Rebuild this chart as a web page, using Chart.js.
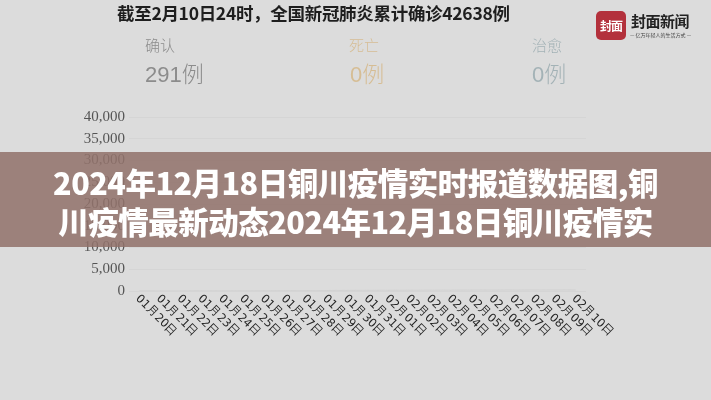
<!DOCTYPE html>
<html>
<head>
<meta charset="utf-8">
<script src="https://cdn.jsdelivr.net/npm/chart.js@4.4.1/dist/chart.umd.min.js"></script>
<style>
  html, body { margin: 0; padding: 0; background: #dcdcdc; }
  #wrap { position: relative; width: 711px; height: 400px; overflow: hidden; background: #dcdcdc; }
  canvas { position: absolute; left: 0; top: 0; }
  .abs { position: absolute; white-space: nowrap; }
  #title { left: 117px; top: 0px; font: bold 17.5px "Noto Sans CJK SC"; color: #1e1e1e; letter-spacing: -0.3px; }
  .lab { font: 300 15px "Noto Sans CJK SC"; }
  .num { font: 22px "Liberation Sans Narrow", "Liberation Sans", sans-serif; }
  .num span { font: 300 22px "Noto Sans CJK SC"; }
  #banner { left: 0; top: 152px; width: 711px; height: 95px; background: rgba(146,114,107,0.86); }
  .bt { left: 0; width: 711px; text-align: center; font: 900 30.5px "Noto Sans CJK SC"; color: #fff; letter-spacing: -0.5px; }
  #logo { left: 596px; top: 11px; width: 30px; height: 29px; background: #b3313c; border-radius: 5px; color: #fff; font: bold 12px "Noto Sans CJK SC"; text-align: center; line-height: 29px; letter-spacing: -1px; }
  #logoT { left: 631px; top: 10px; font: bold 15px "Noto Sans CJK SC"; color: #222; letter-spacing: -0.5px; }
  #logoS { left: 630px; top: 31px; font: 5px "Noto Sans CJK SC"; color: #444; }
</style>
</head>
<body>
<div id="wrap">
  <canvas id="c" width="711" height="400"></canvas>
  <div class="abs" id="title"></div>
  <div class="abs lab" id="l0" style="left:145px; top:34px;"></div>
  <div class="abs num" id="n0" style="left:145px; top:56px;"></div>
  <div class="abs lab" id="l1" style="left:349px; top:34px;"></div>
  <div class="abs num" id="n1" style="left:350px; top:56px;"></div>
  <div class="abs lab" id="l2" style="left:532px; top:34px;"></div>
  <div class="abs num" id="n2" style="left:532px; top:56px;"></div>
  <div class="abs" id="logo">封面</div>
  <div class="abs" id="logoT">封面新闻</div>
  <div class="abs" id="logoS">— 亿万年轻人的生活方式 —</div>
  <div class="abs" id="banner"></div>
  <div class="abs bt" id="b1" style="top:160px;"></div>
  <div class="abs bt" id="b2" style="top:199px;"></div>
</div>
<script>
// ---- data ----
const categories = ["01月20日","01月21日","01月22日","01月23日","01月24日","01月25日","01月26日","01月27日","01月28日","01月29日","01月30日","01月31日","02月01日","02月02日","02月03日","02月04日","02月05日","02月06日","02月07日","02月08日","02月09日","02月10日"];
const confirmed = [0,1,3,8,15,28,44,69,90,108,142,165,182,198,215,231,246,258,268,278,285,291];
const deaths    = [0,0,0,0,0,0,0,0,0,0,0,0,0,0,0,0,0,0,0,0,0,0];
const cured     = [0,0,0,0,0,0,0,0,0,0,0,0,0,0,0,0,0,0,0,0,0,0];
const yTicks = [0,5000,10000,15000,20000,25000,30000,35000,40000];
const titleText = "截至2月10日24时，全国新冠肺炎累计确诊42638例";
const statLabels = ["确认","死亡","治愈"];
const statValues = [291, 0, 0];
const statColors = ["#8c8c8c","#d6bd94","#a3b2b6"];
const bannerLines = ["2024年12月18日铜川疫情实时报道数据图,铜","川疫情最新动态2024年12月18日铜川疫情实"];

// ---- text ----
document.getElementById('title').textContent = titleText;
for (let i = 0; i < 3; i++) {
  const l = document.getElementById('l' + i);
  l.textContent = statLabels[i]; l.style.color = statColors[i];
  const n = document.getElementById('n' + i);
  n.innerHTML = statValues[i] + '<span>例</span>'; n.style.color = statColors[i];
}
document.getElementById('b1').textContent = bannerLines[0];
document.getElementById('b2').textContent = bannerLines[1];

// ---- rotated x labels (top-left to bottom-right) ----
const xLabelPlugin = {
  id: 'xLabels',
  afterDraw(chart) {
    const xs = chart.scales.x, ctx = chart.ctx;
    const y0 = chart.chartArea.bottom;
    ctx.save();
    ctx.font = '11.5px "DejaVu Sans", sans-serif';
    ctx.fillStyle = '#262626';
    ctx.textAlign = 'left';
    ctx.textBaseline = 'middle';
    xs.ticks.forEach((t, i) => {
      const x = xs.getPixelForTick(i);
      ctx.save();
      ctx.translate(x - 2, y0 + 6);
      ctx.rotate(Math.PI / 4);
      ctx.fillText(categories[i], 0, 0);
      ctx.restore();
    });
    ctx.restore();
  }
};

new Chart(document.getElementById('c'), {
  type: 'line',
  data: {
    labels: categories,
    datasets: [
      { label: statLabels[0], data: confirmed, borderColor: 'rgba(205,205,205,0.5)', borderWidth: 1, pointRadius: 0, fill: false },
      { label: statLabels[1], data: deaths, borderColor: 'rgba(205,205,205,0.3)', borderWidth: 1, pointRadius: 0, fill: false },
      { label: statLabels[2], data: cured, borderColor: 'rgba(205,205,205,0.3)', borderWidth: 1, pointRadius: 0, fill: false }
    ]
  },
  options: {
    responsive: false,
    animation: false,
    layout: { padding: { left: 69, right: 125, top: 117, bottom: 101 } },
    plugins: { legend: { display: false }, tooltip: { enabled: false } },
    scales: {
      x: {
        offset: true,
        grid: { display: false },
        border: { display: false },
        ticks: { display: false }
      },
      y: {
        min: 0, max: 40000,
        afterFit(s) { s.width = 60; },
        afterBuildTicks(s) { s.ticks = yTicks.map(v => ({ value: v })); },
        grid: { color: '#d5d5d5', lineWidth: 1, drawTicks: false },
        border: { display: false },
        ticks: {
          autoSkip: false,
          padding: 4,
          color: '#555',
          font: { family: '"Liberation Serif", serif', size: 15 },
          callback: v => v.toLocaleString('en-US')
        }
      }
    }
  },
  plugins: [xLabelPlugin]
});
</script>
</body>
</html>
